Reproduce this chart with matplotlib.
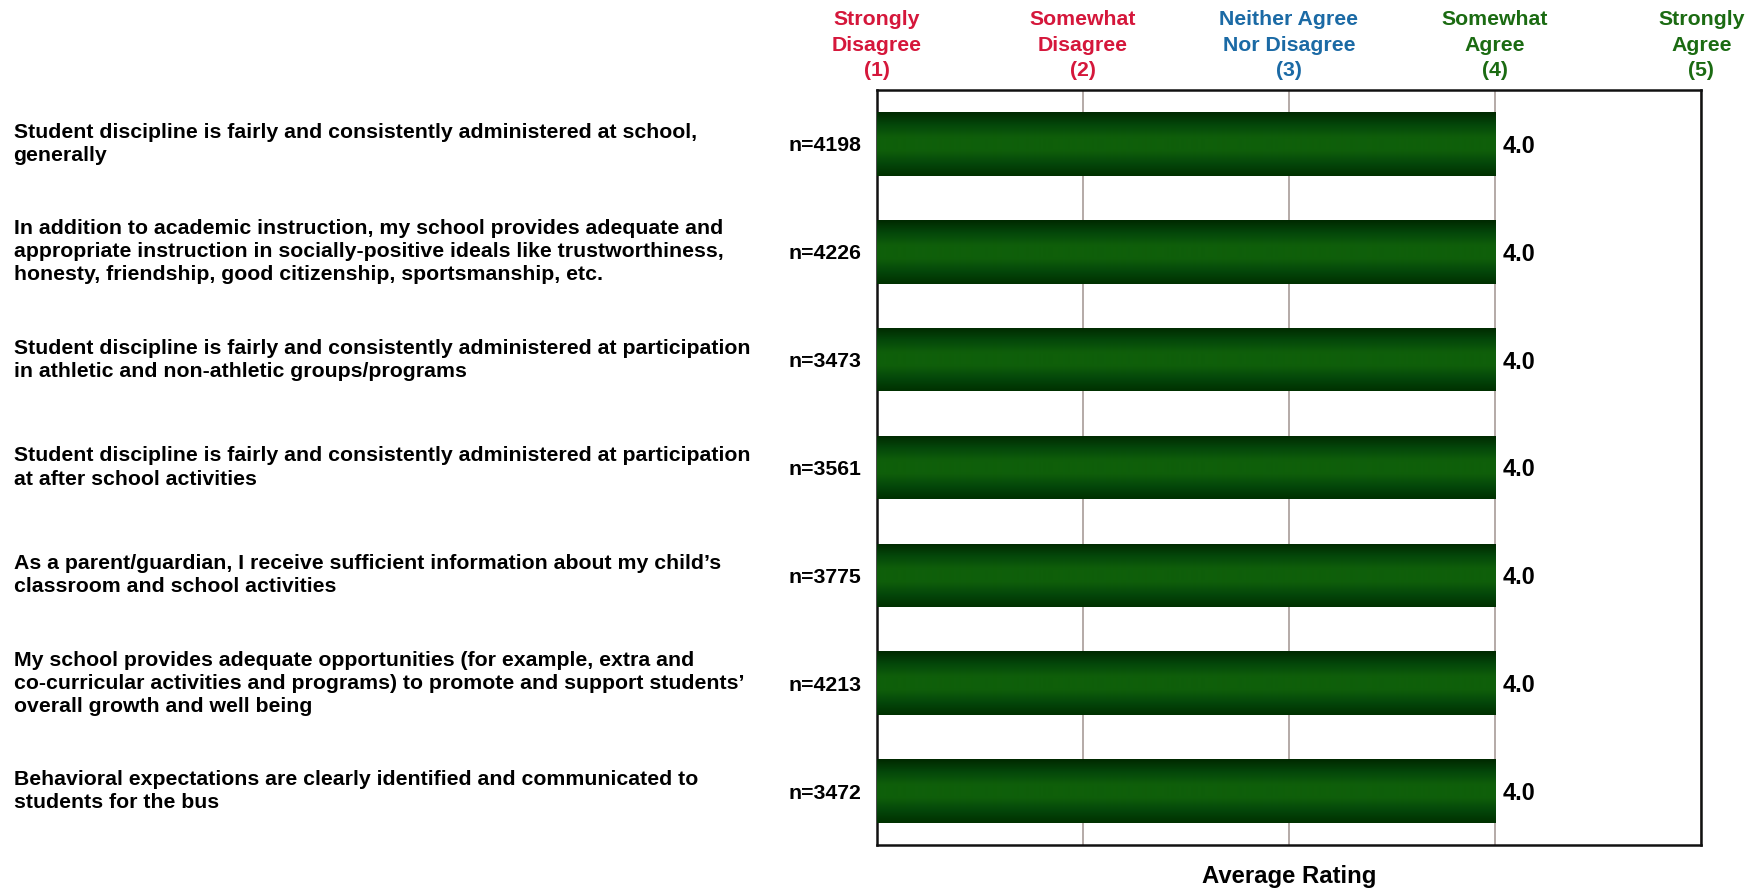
import matplotlib
matplotlib.use("Agg")
import matplotlib.pyplot as plt
import numpy as np
from matplotlib import font_manager
from matplotlib.colors import LinearSegmentedColormap

# ---------------- data ----------------
statements = [
    "Student discipline is fairly and consistently administered at school,\ngenerally",
    "In addition to academic instruction, my school provides adequate and\nappropriate instruction in socially-positive ideals like trustworthiness,\nhonesty, friendship, good citizenship, sportsmanship, etc.",
    "Student discipline is fairly and consistently administered at participation\nin athletic and non-athletic groups/programs",
    "Student discipline is fairly and consistently administered at participation\nat after school activities",
    "As a parent/guardian, I receive sufficient information about my child\u2019s\nclassroom and school activities",
    "My school provides adequate opportunities (for example, extra and\nco-curricular activities and programs) to promote and support students\u2019\noverall growth and well being",
    "Behavioral expectations are clearly identified and communicated to\nstudents for the bus",
]
ratings = [4.0, 4.0, 4.0, 4.0, 4.0, 4.0, 4.0]
n_counts = [4198, 4226, 3473, 3561, 3775, 4213, 3472]
scale_ticks = [1, 2, 3, 4, 5]
scale_labels = ["Strongly\nDisagree\n(1)", "Somewhat\nDisagree\n(2)", "Neither Agree\nNor Disagree\n(3)",
                "Somewhat\nAgree\n(4)", "Strongly\nAgree\n(5)"]
scale_colors = ["#D5173B", "#D5173B", "#1B6AA5", "#1B6B12", "#1B6B12"]
xlabel = "Average Rating"

# ---------------- fonts ----------------
avail = {f.name for f in font_manager.fontManager.ttflist}
FONT = "Liberation Sans Narrow" if "Liberation Sans Narrow" in avail else "Liberation Sans"
plt.rcParams["font.family"] = [FONT, "DejaVu Sans"]
plt.rcParams["font.weight"] = "bold"

W, H = 1762, 888
fig = plt.figure(figsize=(W / 100, H / 100), dpi=100)
ax = fig.add_axes([876.5 / W, 1 - 845 / H, (1701.3 - 876.5) / W, (845 - 90) / H])

# fit font size of left labels to reference width
probe = "Student discipline is fairly and consistently administered at participation"
t = fig.text(0, 0, probe, fontsize=10, fontweight="bold")
fig.canvas.draw()
w10 = t.get_window_extent().width
t.remove()
FS = 10 * 737 / w10

y = np.arange(len(ratings))
bars = ax.barh(y, [r - 1 for r in ratings], left=1, height=0.59, color="#0E5A0A", zorder=2)

cmap = LinearSegmentedColormap.from_list(
    "g", ["#002800", "#04470A", "#0F5F0A", "#0F5F0A", "#04470A", "#003000"])
grad = np.linspace(0, 1, 256).reshape(-1, 1)
for b in bars:
    x0, y0 = b.get_x(), b.get_y()
    im = ax.imshow(grad, cmap=cmap, aspect="auto", interpolation="bicubic",
                   extent=[x0, x0 + b.get_width(), y0 + b.get_height(), y0], zorder=3)
    im.set_clip_path(b)

ax.set_xlim(1, 5)
ax.set_ylim(len(ratings) - 0.5, -0.5)
ax.set_xticks(scale_ticks)
ax.tick_params(axis="both", length=0, labelbottom=False, labelleft=False)
ax.set_yticks([])
ax.grid(axis="x", color="#A89C98", linewidth=1.2, zorder=1)
for s in ax.spines.values():
    s.set_linewidth(1.8)
    s.set_color("#111111")

trans_lbl = matplotlib.transforms.blended_transform_factory(fig.transFigure, ax.transData)
for i, (st, n, r) in enumerate(zip(statements, n_counts, ratings)):
    ax.text(13.5 / W, i, st, transform=trans_lbl, ha="left", va="center",
            fontsize=FS, fontweight="bold", linespacing=1.28)
    ax.annotate(f"n={n}", xy=(1, i), xytext=(-11, 0), textcoords="offset points",
                ha="right", va="center_baseline", fontsize=FS, fontweight="bold")
    ax.annotate(f"{r:.1f}", xy=(r, i), xytext=(5.5, 0), textcoords="offset points",
                ha="left", va="center_baseline", fontsize=FS * 1.1, fontweight="bold")

trans_top = matplotlib.transforms.blended_transform_factory(ax.transData, fig.transFigure)
for xt, lab, c in zip(scale_ticks, scale_labels, scale_colors):
    ax.text(xt, 1 - 80 / H, lab, transform=trans_top, ha="center", va="bottom",
            fontsize=FS, fontweight="bold", color=c, linespacing=1.42)

ax.text(3, 1 - 876 / H, xlabel, transform=trans_top, ha="center", va="center",
        fontsize=FS * 1.12, fontweight="bold")

fig.savefig("out.png", dpi=100, facecolor="white")
